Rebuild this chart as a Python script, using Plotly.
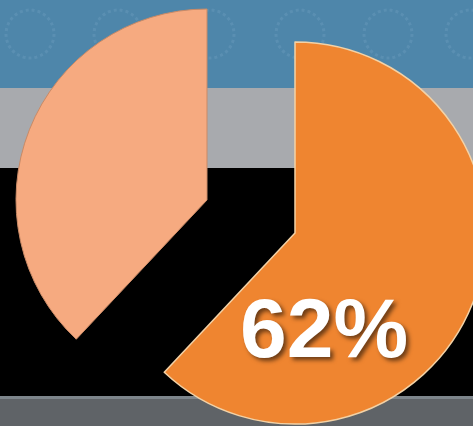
import plotly.graph_objects as go

# data
labels = ["Share", "Rest"]
values = [62, 38]
slice_colors = ["#EF8530", "#F6AA80"]
label_text = "62%"

W, H = 490, 426  # wider than the window so the orange slice is cropped on the right

fig = go.Figure()

# orange slice (62%), drawn alone in its own domain
fig.add_trace(go.Pie(
    labels=labels, values=values, sort=False, direction="clockwise", rotation=0,
    marker=dict(colors=[slice_colors[0], "rgba(0,0,0,0)"],
                line=dict(color=["#F3D2A6", "rgba(0,0,0,0)"], width=1.5)),
    textinfo="none", hoverinfo="label+percent", showlegend=False,
    domain=dict(x=[104 / W, 486 / W], y=[2 / H, 384 / H]),
))

# light slice (38%), pulled up-left
fig.add_trace(go.Pie(
    labels=labels, values=values, sort=False, direction="clockwise", rotation=0,
    marker=dict(colors=["rgba(0,0,0,0)", slice_colors[1]],
                line=dict(color=["rgba(0,0,0,0)", "#C98A66"], width=1)),
    textinfo="none", hoverinfo="label+percent", showlegend=False,
    domain=dict(x=[16 / W, 398 / W], y=[35 / H, 417 / H]),
))

# background bands
shapes = [
    dict(type="rect", xref="paper", yref="paper", x0=0, x1=1, y0=1 - 88 / H, y1=1,
         fillcolor="#4E86AA", line_width=0, layer="below"),
    dict(type="rect", xref="paper", yref="paper", x0=0, x1=1, y0=1 - 168 / H, y1=1 - 88 / H,
         fillcolor="#A8AAAE", line_width=0, layer="below"),
    dict(type="rect", xref="paper", yref="paper", x0=0, x1=1, y0=1 - 396 / H, y1=1 - 168 / H,
         fillcolor="#000000", line_width=0, layer="below"),
    dict(type="rect", xref="paper", yref="paper", x0=0, x1=1, y0=0, y1=1 - 396 / H,
         fillcolor="#5F6367", line_width=0, layer="below"),
    dict(type="rect", xref="paper", yref="paper", x0=0, x1=1, y0=1 - 399 / H, y1=1 - 396 / H,
         fillcolor="#7D858B", line_width=0, layer="below"),
]
# faint ring pattern in the blue band
for cx in [30, 118, 210, 300, 388, 470]:
    shapes.append(dict(type="circle", xref="paper", yref="paper",
                       x0=(cx - 24) / W, x1=(cx + 24) / W,
                       y0=1 - 58 / H, y1=1 - 10 / H,
                       line=dict(color="rgba(150,190,215,0.18)", width=3, dash="dot"),
                       layer="below"))

fig.update_layout(
    width=W, height=H,
    margin=dict(l=0, r=0, t=0, b=0),
    paper_bgcolor="#000000",
    shapes=shapes,
    annotations=[dict(
        text=label_text, xref="paper", yref="paper",
        x=324 / W, y=1 - 377 / H, showarrow=False,
        font=dict(family="Liberation Sans, Arial", size=84, color="white",
                  weight="bold", shadow="3px 3px 4px rgba(0,0,0,0.55)"),
    )],
)

# drop the default page margin so the figure sits at the window corner
fig.write_html("out.html", config={"displayModeBar": False},
               post_script="document.body.style.margin='0';document.body.style.overflow='hidden';")
